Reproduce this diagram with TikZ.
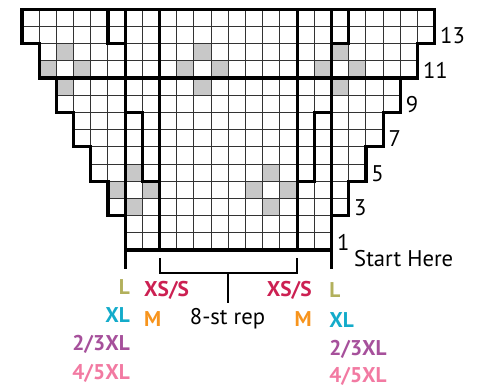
\documentclass[tikz,border=0pt]{standalone}
\usepackage{fontspec}
\setmainfont{PT Sans}
\usepackage{tikz}
\usetikzlibrary{positioning}
\definecolor{cellgray}{RGB}{200,200,200}
\definecolor{sizeL}{RGB}{178,176,92}
\definecolor{sizeXL}{RGB}{19,171,202}
\definecolor{sizeXXL}{RGB}{166,80,155}
\definecolor{sizeXXXL}{RGB}{242,122,162}
\definecolor{sizeXS}{RGB}{204,32,82}
\definecolor{sizeM}{RGB}{247,148,29}

\begin{document}
\begin{tikzpicture}[
  x=12.9pt, y=12.9pt,
  gridline/.style={draw=black!80, line width=0.75pt, step=12.9pt},
  edge/.style={line width=2.4pt, line cap=rect},
  bracket/.style={line width=1.6pt},
  stitch/.style={fill=cellgray},
  rownum/.style={anchor=base west, inner sep=0pt, font=\fontsize{17}{20}\selectfont},
  note/.style={inner sep=0pt, font=\fontsize{17}{20}\selectfont},
  size/.style={inner sep=0pt, font=\fontsize{16}{19}\selectfont\bfseries}
]
\useasboundingbox (-1.279,-7.965) rectangle (26.628,14.535);

\foreach \cx/\cy in {2/11,10/11,18/11,6/4,14/4}
  \foreach \dx/\dy in {0/1,-1/0,1/0,0/-1}
    \fill[stitch] ({\cx+\dx},{\cy+\dy-1}) rectangle ++(1,1);

\foreach \k in {1,...,7}
  \draw[gridline] ({7-\k},{2*\k-2}) grid ({17+\k},{2*\k});

\draw[edge] (6,0) -- (18,0) |- (19,2) |- (20,4) |- (21,6) |- (22,8) |- (23,10) |- (24,12)
  -- (24,14) -- (0,14) -- (0,12) -| (1,10) -| (2,8) -| (3,6) -| (4,4) -| (5,2) -| (6,0) -- cycle;
\draw[edge] (1,10) -- (23,10);
\draw[edge] (6,-1) -- (6,14);
\draw[edge] (18,-1) -- (18,14);
\draw[edge] (8,0) -- (8,14);
\draw[edge] (16,0) -- (16,14);
\draw[edge] (5,14) |- (6,12);
\draw[edge] (19,14) |- (18,12);
\draw[edge] (6,8) -| (7,4) -- (8,4);
\draw[edge] (18,8) -| (17,4) -- (16,4);

\foreach \k/\n in {1/1,2/3,3/5,4/7,5/9,6/11,7/13}
  \node[rownum] (row\n) at ({17+\k+0.3},{2*\k-2}) {\n};
\node[note, anchor=base west] (start) at (19.3,-0.97) {Start Here};

\coordinate (repL) at (8,-0.47);
\coordinate (repR) at (16,-0.47);
\coordinate (repmid) at (12,-1.34);
\coordinate (repend) at (12,-3.08);
\draw[bracket] (repL) |- (repmid) -| (repR);
\draw[bracket] (repmid) -- (repend);
\node[note, anchor=base] (rep) at (11.95,-4.36) {8-st rep};

\node[size, anchor=base east, text=sizeL] (lL) at (6.28,-2.56) {L};
\node[size, anchor=base east, text=sizeXL] (lXL) at (6.28,-4.24) {XL};
\node[size, anchor=base east, text=sizeXXL] (lXXL) at (6.28,-5.87) {2/3XL};
\node[size, anchor=base east, text=sizeXXXL] (lXXXL) at (6.28,-7.5) {4/5XL};
\node[size, anchor=base west, text=sizeXS] (lXS) at (7.09,-2.71) {XS/S};
\node[size, anchor=base west, text=sizeM] (lM) at (7.09,-4.42) {M};

\node[size, anchor=base east, text=sizeXS] (rXS) at (16.86,-2.71) {XS/S};
\node[size, anchor=base east, text=sizeM] (rM) at (16.86,-4.42) {M};
\node[size, anchor=base west, text=sizeL] (rL) at (17.85,-2.79) {L};
\node[size, anchor=base west, text=sizeXL] (rXL) at (17.85,-4.52) {XL};
\node[size, anchor=base west, text=sizeXXL] (rXXL) at (17.85,-6.16) {2/3XL};
\node[size, anchor=base west, text=sizeXXXL] (rXXXL) at (17.85,-7.71) {4/5XL};
\end{tikzpicture}
\end{document}
